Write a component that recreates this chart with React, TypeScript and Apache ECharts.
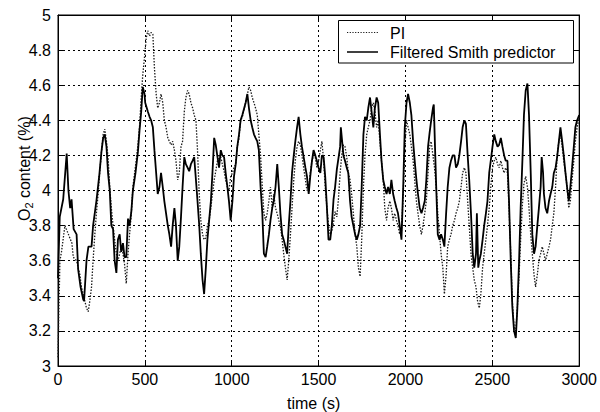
import React, { useEffect, useRef } from "react";
import * as echarts from "echarts";

const xTicks = [0, 500, 1000, 1500, 2000, 2500, 3000];
const yTicks = [3, 3.2, 3.4, 3.6, 3.8, 4, 4.2, 4.4, 4.6, 4.8, 5];

const legendNames = ["PI", "Filtered Smith predictor"];

const piT = [0, 5, 11, 20, 40, 60, 80, 88, 107, 116, 126, 135, 145, 164, 174, 183, 193, 202, 212, 221, 231, 240, 250, 260, 269, 279, 288, 298, 307, 317, 326, 336, 345, 355, 364, 374, 383, 393, 403, 412, 422, 431, 441, 450, 460, 469, 479, 488, 498, 508, 517, 527, 536, 546, 555, 565, 574, 584, 593, 603, 612, 622, 632, 641, 651, 660, 670, 679, 689, 698, 708, 717, 727, 736, 746, 755, 765, 775, 784, 794, 803, 813, 822, 832, 841, 851, 860, 870, 880, 889, 899, 908, 918, 927, 937, 946, 956, 965, 975, 984, 994, 1004, 1013, 1023, 1032, 1042, 1051, 1061, 1080, 1099, 1109, 1118, 1128, 1137, 1147, 1156, 1166, 1176, 1185, 1195, 1204, 1214, 1223, 1233, 1242, 1252, 1261, 1271, 1280, 1290, 1299, 1309, 1319, 1328, 1338, 1347, 1357, 1366, 1376, 1385, 1395, 1404, 1414, 1424, 1433, 1443, 1452, 1462, 1471, 1481, 1490, 1500, 1510, 1519, 1529, 1538, 1548, 1557, 1567, 1576, 1586, 1595, 1605, 1614, 1624, 1633, 1643, 1652, 1662, 1671, 1681, 1690, 1700, 1710, 1720, 1729, 1739, 1748, 1758, 1767, 1777, 1786, 1796, 1805, 1815, 1824, 1834, 1843, 1853, 1862, 1872, 1881, 1891, 1900, 1910, 1919, 1929, 1938, 1948, 1957, 1967, 1977, 1987, 1996, 2006, 2015, 2025, 2034, 2044, 2053, 2063, 2072, 2082, 2092, 2101, 2111, 2120, 2130, 2139, 2148, 2158, 2167, 2177, 2186, 2196, 2205, 2215, 2224, 2234, 2243, 2253, 2262, 2272, 2282, 2291, 2301, 2310, 2320, 2329, 2339, 2348, 2358, 2367, 2377, 2387, 2396, 2406, 2415, 2425, 2434, 2444, 2453, 2463, 2472, 2482, 2491, 2501, 2511, 2520, 2530, 2539, 2549, 2558, 2568, 2577, 2587, 2596, 2606, 2615, 2625, 2635, 2644, 2654, 2663, 2673, 2682, 2692, 2702, 2711, 2721, 2730, 2740, 2749, 2759, 2768, 2778, 2787, 2797, 2806, 2816, 2826, 2835, 2845, 2854, 2864, 2873, 2883, 2892, 2902, 2911, 2921, 2930, 2940, 2949, 2959, 2969, 2978, 2988, 3000];
const piV = [3.05, 3.3, 3.6, 3.65, 3.8, 3.75, 3.7, 3.62, 3.6, 3.56, 3.52, 3.45, 3.41, 3.33, 3.31, 3.37, 3.45, 3.6, 3.75, 3.87, 3.98, 4.1, 4.22, 4.32, 4.35, 4.28, 4.19, 4.02, 3.9, 3.8, 3.72, 3.64, 3.6, 3.64, 3.68, 3.64, 3.58, 3.47, 3.64, 3.75, 3.87, 4.02, 4.1, 4.17, 4.26, 4.36, 4.53, 4.66, 4.76, 4.87, 4.91, 4.88, 4.9, 4.89, 4.7, 4.55, 4.47, 4.5, 4.55, 4.5, 4.4, 4.36, 4.3, 4.28, 4.26, 4.28, 4.23, 4.17, 4.06, 4.1, 4.25, 4.28, 4.45, 4.53, 4.57, 4.55, 4.5, 4.47, 4.43, 4.4, 4.23, 3.98, 3.83, 3.75, 3.72, 3.73, 3.8, 3.83, 3.9, 3.98, 4.06, 4.11, 4.17, 4.2, 4.19, 4.15, 4.11, 4.06, 4.02, 4.0, 4.08, 4.1, 4.13, 4.15, 4.25, 4.3, 4.4, 4.42, 4.5, 4.59, 4.57, 4.53, 4.5, 4.47, 4.43, 4.32, 4.2, 4.02, 3.87, 3.83, 3.87, 3.94, 4.02, 3.9, 3.98, 3.9, 3.87, 3.83, 3.8, 3.72, 3.64, 3.56, 3.49, 3.6, 3.75, 3.9, 4.06, 4.17, 4.25, 4.28, 4.26, 4.2, 4.13, 4.06, 4.0, 4.02, 4.1, 4.17, 4.2, 4.19, 4.13, 4.17, 4.23, 4.28, 4.17, 4.02, 3.9, 3.8, 3.75, 3.77, 3.82, 3.88, 3.85, 3.95, 4.1, 4.2, 4.26, 4.25, 4.19, 4.1, 4.06, 3.98, 3.87, 3.75, 3.68, 3.56, 3.51, 3.72, 4.02, 4.2, 4.32, 4.36, 4.4, 4.47, 4.5, 4.45, 4.36, 4.4, 4.28, 4.17, 4.06, 3.9, 3.83, 3.9, 3.94, 3.9, 3.83, 3.87, 3.83, 3.8, 3.75, 3.77, 3.98, 4.23, 4.4, 4.36, 4.32, 4.25, 4.17, 4.06, 3.94, 3.87, 3.8, 3.75, 3.8, 3.87, 3.94, 4.1, 4.25, 4.28, 4.2, 4.13, 4.02, 3.87, 3.75, 3.64, 3.56, 3.41, 3.52, 3.68, 3.72, 3.75, 3.8, 3.83, 3.87, 3.9, 3.94, 4.02, 4.1, 4.13, 4.1, 3.94, 3.8, 3.64, 3.56, 3.49, 3.45, 3.37, 3.33, 3.41, 3.56, 3.64, 3.72, 3.8, 3.9, 4.02, 4.13, 4.17, 4.19, 4.15, 4.13, 4.17, 4.13, 4.1, 4.13, 4.1, 3.9, 3.64, 3.37, 3.22, 3.2, 3.33, 3.52, 3.72, 3.92, 4.04, 4.08, 4.02, 3.9, 3.75, 3.64, 3.52, 3.45, 3.52, 3.6, 3.64, 3.68, 3.64, 3.6, 3.64, 3.68, 3.72, 3.8, 3.87, 4.02, 4.2, 4.28, 4.32, 4.25, 4.17, 4.1, 4.02, 3.9, 3.94, 4.06, 4.17, 4.28, 4.36, 4.42];

const fspT = [0, 10, 30, 50, 60, 70, 78, 90, 107, 116, 130, 145, 150, 164, 175, 193, 202, 221, 237, 250, 260, 269, 279, 288, 298, 307, 317, 326, 336, 345, 355, 364, 374, 383, 393, 403, 412, 422, 431, 446, 460, 469, 479, 488, 498, 502, 517, 527, 536, 546, 555, 565, 574, 584, 593, 603, 612, 622, 632, 641, 651, 660, 670, 679, 689, 698, 708, 717, 727, 736, 746, 755, 765, 775, 784, 794, 803, 813, 822, 832, 841, 851, 860, 870, 880, 889, 899, 908, 918, 927, 937, 946, 956, 965, 975, 984, 994, 1004, 1013, 1023, 1032, 1042, 1051, 1061, 1080, 1090, 1099, 1109, 1118, 1128, 1137, 1147, 1156, 1166, 1176, 1185, 1195, 1204, 1214, 1223, 1233, 1242, 1252, 1262, 1271, 1280, 1290, 1299, 1309, 1319, 1328, 1338, 1347, 1357, 1366, 1376, 1385, 1395, 1404, 1414, 1424, 1433, 1443, 1452, 1462, 1471, 1481, 1490, 1500, 1510, 1519, 1529, 1538, 1548, 1557, 1567, 1576, 1586, 1595, 1605, 1624, 1628, 1643, 1652, 1662, 1671, 1681, 1690, 1700, 1710, 1720, 1729, 1739, 1748, 1758, 1767, 1777, 1786, 1796, 1805, 1815, 1824, 1834, 1843, 1853, 1862, 1872, 1881, 1891, 1900, 1910, 1919, 1929, 1938, 1948, 1957, 1967, 1977, 1987, 1996, 2006, 2015, 2025, 2034, 2044, 2053, 2063, 2072, 2082, 2092, 2101, 2111, 2120, 2130, 2139, 2148, 2158, 2163, 2170, 2177, 2186, 2196, 2205, 2215, 2224, 2234, 2243, 2253, 2262, 2272, 2282, 2291, 2301, 2310, 2320, 2329, 2339, 2348, 2358, 2367, 2377, 2387, 2396, 2406, 2411, 2419, 2425, 2434, 2444, 2453, 2463, 2472, 2482, 2491, 2501, 2511, 2520, 2530, 2539, 2549, 2558, 2568, 2577, 2587, 2596, 2606, 2615, 2625, 2635, 2644, 2654, 2663, 2673, 2682, 2692, 2702, 2711, 2721, 2730, 2740, 2749, 2759, 2768, 2778, 2784, 2792, 2797, 2806, 2816, 2826, 2835, 2845, 2854, 2864, 2873, 2883, 2892, 2902, 2911, 2921, 2930, 2940, 2949, 2959, 2969, 2978, 2988, 3000];
const fspV = [3.5, 3.85, 3.95, 4.21, 4.0, 3.9, 3.95, 3.78, 3.75, 3.55, 3.45, 3.38, 3.37, 3.6, 3.68, 3.68, 3.8, 3.94, 4.08, 4.22, 4.3, 4.32, 4.25, 4.1, 4.0, 3.8, 3.78, 3.6, 3.53, 3.72, 3.75, 3.65, 3.7, 3.62, 3.62, 3.84, 3.8, 3.88, 4.0, 4.1, 4.22, 4.34, 4.45, 4.59, 4.55, 4.5, 4.45, 4.42, 4.4, 4.36, 4.23, 4.1, 3.98, 4.02, 4.1, 4.02, 3.94, 3.87, 3.8, 3.75, 3.68, 3.8, 3.9, 3.8, 3.6, 3.68, 3.85, 4.02, 4.19, 4.15, 4.13, 4.11, 4.15, 4.17, 4.19, 4.06, 3.94, 3.8, 3.64, 3.49, 3.41, 3.56, 3.72, 3.83, 3.94, 4.1, 4.3, 4.26, 4.19, 4.13, 4.23, 4.2, 4.19, 4.1, 4.02, 3.94, 3.83, 3.94, 4.08, 4.15, 4.25, 4.32, 4.4, 4.43, 4.5, 4.55, 4.47, 4.4, 4.36, 4.32, 4.3, 4.28, 4.23, 4.02, 3.87, 3.64, 3.62, 3.68, 3.75, 3.83, 3.9, 3.94, 4.02, 4.15, 4.02, 3.87, 3.75, 3.72, 3.68, 3.64, 3.8, 3.94, 4.1, 4.2, 4.28, 4.36, 4.42, 4.32, 4.25, 4.19, 4.13, 4.08, 3.98, 4.08, 4.17, 4.23, 4.2, 4.17, 4.13, 4.1, 4.2, 4.19, 4.08, 3.9, 3.72, 3.72, 3.8, 3.95, 4.02, 4.12, 4.25, 4.36, 4.2, 4.17, 4.13, 4.1, 3.94, 3.85, 3.8, 3.75, 3.72, 3.75, 3.8, 4.02, 4.32, 4.42, 4.4, 4.47, 4.53, 4.45, 4.36, 4.47, 4.53, 4.5, 4.32, 4.17, 4.06, 4.02, 3.98, 4.02, 3.98, 4.06, 3.98, 3.94, 3.9, 3.87, 3.8, 3.72, 4.02, 4.36, 4.5, 4.55, 4.5, 4.43, 4.28, 4.17, 4.06, 3.98, 3.9, 3.87, 3.9, 3.94, 4.06, 4.25, 4.33, 4.4, 4.47, 4.49, 4.25, 4.02, 3.75, 3.72, 3.75, 3.72, 3.68, 3.87, 4.02, 4.13, 4.17, 4.2, 4.2, 4.13, 4.15, 4.2, 4.28, 4.36, 4.4, 4.38, 4.2, 4.06, 3.87, 3.64, 3.56, 3.64, 3.87, 3.56, 3.6, 3.64, 3.72, 3.8, 3.87, 3.94, 4.1, 4.17, 4.25, 4.32, 4.28, 4.25, 4.26, 4.3, 4.25, 4.2, 4.17, 4.17, 3.94, 3.6, 3.34, 3.2, 3.16, 3.33, 3.6, 3.9, 4.17, 4.43, 4.57, 4.61, 4.43, 4.1, 3.75, 3.64, 3.68, 3.8, 3.9, 4.02, 4.19, 4.1, 3.98, 3.9, 3.87, 3.94, 3.98, 4.02, 4.1, 4.13, 4.19, 4.28, 4.36, 4.28, 4.2, 4.1, 4.02, 3.94, 4.02, 4.13, 4.25, 4.36, 4.4, 4.43];

const FONT = "'Liberation Sans', Arial, Helvetica, sans-serif";
const PI_STYLE = { color: "#1a1a1a", width: 1.3, type: [1.5, 1.5] };
const FSP_STYLE = { color: "#000", width: 1.8, type: "solid" };

export default function App() {
  const ref = useRef<HTMLDivElement>(null);

  useEffect(() => {
    if (!ref.current) return;
    const chart = echarts.init(ref.current, null, { renderer: "svg" });
    const piData = piT.map((t, i) => [t, piV[i]]);
    const fspData = fspT.map((t, i) => [t, fspV[i]]);
    const xMin = xTicks[0];
    const xMax = xTicks[xTicks.length - 1];
    const xInt = xTicks[1] - xTicks[0];
    const yMin = yTicks[0];
    const yMax = yTicks[yTicks.length - 1];
    const yInt = 0.2;
    const gridLine = { show: true, lineStyle: { color: "#000", width: 1, type: [2, 3] } };
    const tickIn = { show: true, inside: true, length: 5, lineStyle: { color: "#000" } };
    const axisLine = { show: true, onZero: false, lineStyle: { color: "#000", width: 1 } };
    const LZ = 100;

    chart.setOption({
      animation: false,
      backgroundColor: "#fff",
      grid: {
        left: 58,
        right: 18,
        top: 15,
        bottom: 46,
        show: true,
        borderColor: "#000",
        borderWidth: 1,
        backgroundColor: "transparent",
      },
      xAxis: [
        {
          type: "value",
          min: xMin,
          max: xMax,
          interval: xInt,
          position: "bottom",
          axisLine,
          axisTick: tickIn,
          splitLine: gridLine,
          axisLabel: {
            fontSize: 16,
            fontFamily: FONT,
            color: "#000",
            margin: 5,
            formatter: (v: number) => String(v),
          },
        },
        {
          type: "value",
          min: xMin,
          max: xMax,
          interval: xInt,
          position: "top",
          axisLine,
          axisTick: tickIn,
          splitLine: { show: false },
          axisLabel: { show: false },
        },
      ],
      yAxis: [
        {
          type: "value",
          min: yMin,
          max: yMax,
          interval: yInt,
          position: "left",
          axisLine,
          axisTick: tickIn,
          splitLine: gridLine,
          axisLabel: {
            fontSize: 16,
            fontFamily: FONT,
            color: "#000",
            margin: 7,
            formatter: (v: number) => String(Math.round(v * 10) / 10),
          },
        },
        {
          type: "value",
          min: yMin,
          max: yMax,
          interval: yInt,
          position: "right",
          axisLine,
          axisTick: tickIn,
          splitLine: { show: false },
          axisLabel: { show: false },
        },
      ],
      series: [
        {
          name: legendNames[0],
          type: "line",
          data: piData,
          symbol: "none",
          lineStyle: PI_STYLE,
          z: 2,
        },
        {
          name: legendNames[1],
          type: "line",
          data: fspData,
          symbol: "none",
          lineStyle: FSP_STYLE,
          z: 3,
        },
      ],
      graphic: {
        zlevel: 1,
        elements: [
          {
            type: "rect",
            z: LZ,
            zlevel: 1,
            shape: { x: 338.5, y: 20.5, width: 235, height: 42.5 },
            style: { fill: "#fff", stroke: "#000", lineWidth: 1 },
          },
          {
            type: "line",
            z: LZ + 1,
            zlevel: 1,
            shape: { x1: 347, y1: 32.5, x2: 378, y2: 32.5 },
            style: { stroke: PI_STYLE.color, lineWidth: 1.1, lineDash: [1.2, 1.5] },
          },
          {
            type: "line",
            z: LZ + 1,
            zlevel: 1,
            shape: { x1: 347, y1: 52, x2: 378, y2: 52 },
            style: { stroke: FSP_STYLE.color, lineWidth: 1.5 },
          },
          {
            type: "text",
            z: LZ + 1,
            zlevel: 1,
            x: 390,
            y: 33,
            style: { text: legendNames[0], fontSize: 16, fontFamily: FONT, fill: "#000", textVerticalAlign: "middle" },
          },
          {
            type: "text",
            z: LZ + 1,
            zlevel: 1,
            x: 390,
            y: 52,
            style: { text: legendNames[1], fontSize: 16, fontFamily: FONT, fill: "#000", textVerticalAlign: "middle" },
          },
          {
            type: "text",
            left: 287,
            top: 395,
            style: { text: "time (s)", fontSize: 16, fontFamily: FONT, fill: "#000" },
          },
          {
            type: "group",
            x: 24,
            y: 168,
            rotation: Math.PI / 2,
            children: [
              {
                type: "text",
                x: -53,
                y: 0,
                style: { text: "O", fontSize: 16, fontFamily: FONT, fill: "#000", textVerticalAlign: "middle" },
              },
              {
                type: "text",
                x: -40.5,
                y: 5,
                style: { text: "2", fontSize: 11, fontFamily: FONT, fill: "#000", textVerticalAlign: "middle" },
              },
              {
                type: "text",
                x: -34.5,
                y: 0,
                style: { text: " content (%)", fontSize: 16, fontFamily: FONT, fill: "#000", textVerticalAlign: "middle" },
              },
            ],
          },
        ],
      },
    });
    return () => chart.dispose();
  }, []);

  return (
    <div
      ref={ref}
      style={{ position: "fixed", left: 0, top: 0, width: 600, height: 412, background: "#fff" }}
    />
  );
}
